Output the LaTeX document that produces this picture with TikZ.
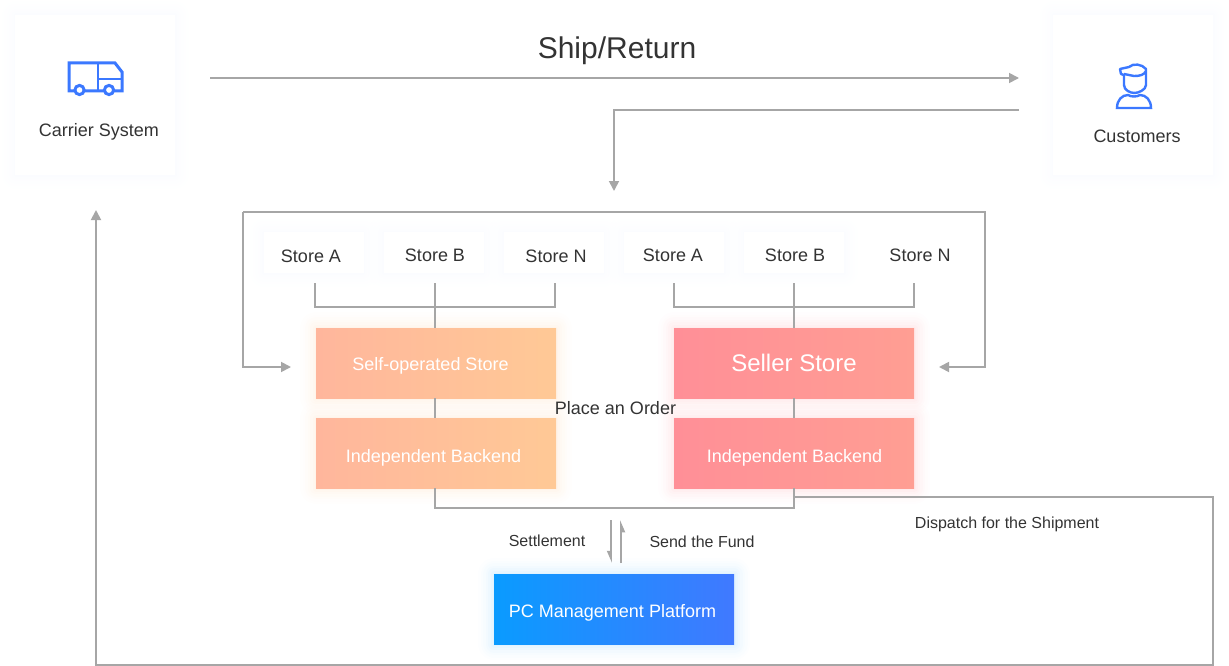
\documentclass[tikz,border=0pt]{standalone}
\usepackage{fontspec}
\setmainfont{Liberation Sans}
\usetikzlibrary{arrows.meta}
\definecolor{linegray}{HTML}{A6A6A6}
\definecolor{iconblue}{HTML}{3B78FF}
\definecolor{textdark}{HTML}{333333}
\definecolor{glowblue}{HTML}{E4ECFF}
\definecolor{selfa}{HTML}{FFB69C}
\definecolor{selfb}{HTML}{FFC996}
\definecolor{sellera}{HTML}{FF8F97}
\definecolor{sellerb}{HTML}{FF9E93}
\definecolor{pca}{HTML}{0A9BFF}
\definecolor{pcb}{HTML}{4079FF}
\tikzset{
  softglow/.style={
    preaction={draw=#1,line width=32pt,draw opacity=.02,line join=round},
    preaction={draw=#1,line width=27pt,draw opacity=.025,line join=round},
    preaction={draw=#1,line width=22pt,draw opacity=.03,line join=round},
    preaction={draw=#1,line width=17pt,draw opacity=.04,line join=round},
    preaction={draw=#1,line width=12pt,draw opacity=.05,line join=round},
    preaction={draw=#1,line width=7pt,draw opacity=.06,line join=round},
    preaction={draw=#1,line width=3pt,draw opacity=.07,line join=round}},
  conn/.style={draw=linegray,line width=1.8pt},
  arrowconn/.style={conn,-{Triangle[length=10pt,width=10pt]}},
  halfconn/.style={conn,-{Triangle[right,length=10pt,width=8pt]}},
  lab/.style={text=textdark,inner sep=0pt,font=\fontsize{16}{18}\selectfont},
  lab18/.style={lab,font=\fontsize{18}{20}\selectfont},
  boxlab/.style={inner sep=0pt,text=white,font=\fontsize{18}{20}\selectfont},
  sidebox/.style={fill=white,minimum width=160pt,minimum height=160pt,inner sep=0pt,softglow=glowblue!55},
  storebox/.style={fill=white,minimum width=100pt,minimum height=41pt,inner sep=0pt,softglow=glowblue!55},
  colorbox/.style={minimum width=240pt,minimum height=70pt,inner sep=0pt,shading=axis,shading angle=90},
  selfbox/.style={colorbox,left color=selfa,right color=selfb,softglow=selfb!75},
  sellerbox/.style={colorbox,left color=sellera,right color=sellerb,softglow=sellera!70},
  icon/.style={draw=iconblue,line width=3pt,line join=miter}
}
\begin{document}
\begin{tikzpicture}[x=1pt,y=-1pt]
\useasboundingbox (0,0) rectangle (1229,666);

\node[sidebox] (carrier) at (95,95) {};
\node[sidebox] (customers) at (1133,95) {};
\node[lab18] (carrierlab) at (99,132) {Carrier System};
\node[lab18] (customerslab) at (1137,136) {Customers};

\draw[icon] (69,63) -- (115,63) -- (122,72) -- (122,91) -- (69,91) -- cycle;
\draw[icon,line width=2.4pt] (98,63) -- (98,91) (98,79) -- (122,79);
\draw[icon,fill=white] (79.5,90) circle (4.6);
\draw[icon,fill=white] (109,90) circle (4.6);

\draw[icon,line width=2.4pt,line join=round] (1120,69) -- (1129,67) .. controls (1133,63) and (1142,64) .. (1146,69) -- (1146,85)
  .. controls (1146,90) and (1138,93) .. (1134.5,93) .. controls (1130,93) and (1124,90) .. (1124,85) -- (1124,75) -- (1121,74) -- cycle;
\draw[icon,line width=2.4pt] (1124,74) -- (1134,76) .. controls (1140,76) and (1144,75) .. (1146,71);
\draw[icon,line width=2.4pt] (1117,108) .. controls (1117,100) and (1122,95) .. (1128,95) .. controls (1131,97) and (1137,97) .. (1140,95)
  .. controls (1146,95) and (1151,100) .. (1151,108) -- cycle;

\node[text=textdark,inner sep=0pt,font=\fontsize{30}{32}\selectfont] (shiplab) at (617,51) {Ship/Return};

\coordinate (shipstart) at (210,78);
\coordinate (shipend) at (1019,78);
\coordinate (returnstart) at (1019,110);
\coordinate (returnend) at (614,191);
\draw[arrowconn] (shipstart) -- (shipend);
\draw[arrowconn] (returnstart) -| (returnend);

\node[storebox,label={[lab18,xshift=-2.5pt,yshift=-3.5pt]center:Store A}] (lstorea) at (313.5,252.5) {};
\node[storebox,label={[lab18,xshift=1.5pt,yshift=-3pt]center:Store B}] (lstoreb) at (433.5,252.5) {};
\node[storebox,label={[lab18,xshift=2.5pt,yshift=-3.5pt]center:Store N}] (lstoren) at (553.5,252.5) {};
\node[storebox,label={[lab18,xshift=-1pt,yshift=-3pt]center:Store A}] (rstorea) at (674,252.5) {};
\node[storebox,label={[lab18,xshift=1pt,yshift=-3pt]center:Store B}] (rstoreb) at (794,252.5) {};
\node[lab18] (rstoren) at (920,255) {Store N};

\node[selfbox,label={[boxlab,xshift=-5.5pt,yshift=-3pt]center:Self-operated Store}] (selfstore) at (436,363) {};
\node[selfbox,label={[boxlab,xshift=-2.5pt,yshift=-5pt]center:Independent Backend}] (selfback) at (436,453) {};
\node[sellerbox,label={[boxlab,font=\fontsize{24}{26}\selectfont]center:Seller Store}] (sellerstore) at (794,363) {};
\node[sellerbox,label={[boxlab,xshift=.5pt,yshift=-5pt]center:Independent Backend}] (sellerback) at (794,453) {};
\node[colorbox,left color=pca,right color=pcb,softglow=pca!45,label={[boxlab,xshift=-1.5pt,yshift=-4pt]center:PC Management Platform}] (platform) at (614,609) {};

\coordinate (lbracka) at (315,283);
\coordinate (lbrackb) at (435,283);
\coordinate (lbrackn) at (555,283);
\coordinate (rbracka) at (674,283);
\coordinate (rbrackb) at (794,283);
\coordinate (rbrackn) at (914,283);
\draw[conn] (lbracka) |- (lbrackn |- 0,307) -- (lbrackn);
\draw[conn] (lbrackb) -- (lbrackb |- selfstore.north);
\draw[conn] (rbracka) |- (rbrackn |- 0,307) -- (rbrackn);
\draw[conn] (rbrackb) -- (rbrackb |- sellerstore.north);
\draw[conn] (lbrackb |- selfstore.south) -- (lbrackb |- selfback.north);
\draw[conn] (sellerstore.south) -- (sellerback.north);

\coordinate (loopleftend) at (291,367);
\coordinate (looprightend) at (939,367);
\draw[arrowconn] (243,212) |- (loopleftend);
\draw[arrowconn] (243,212) -- (985,212) |- (looprightend);

\node[lab18] (orderlab) at (615.5,408) {Place an Order};

\draw[conn] (lbrackb |- selfback.south) |- (794,508) -- (sellerback.south);

\coordinate (dispatchstart) at (794,497);
\coordinate (carrierend) at (96,210);
\draw[arrowconn] (dispatchstart) -- (1213,497) -- (1213,665) -- (96,665) -- (carrierend);
\node[lab] (dispatchlab) at (1007,524) {Dispatch for the Shipment};

\draw[halfconn] (611,520) -- (611,563);
\draw[halfconn] (621,563) -- (621,520);
\node[lab] (settlelab) at (547,541) {Settlement};
\node[lab] (fundlab) at (702,542) {Send the Fund};
\end{tikzpicture}
\end{document}
